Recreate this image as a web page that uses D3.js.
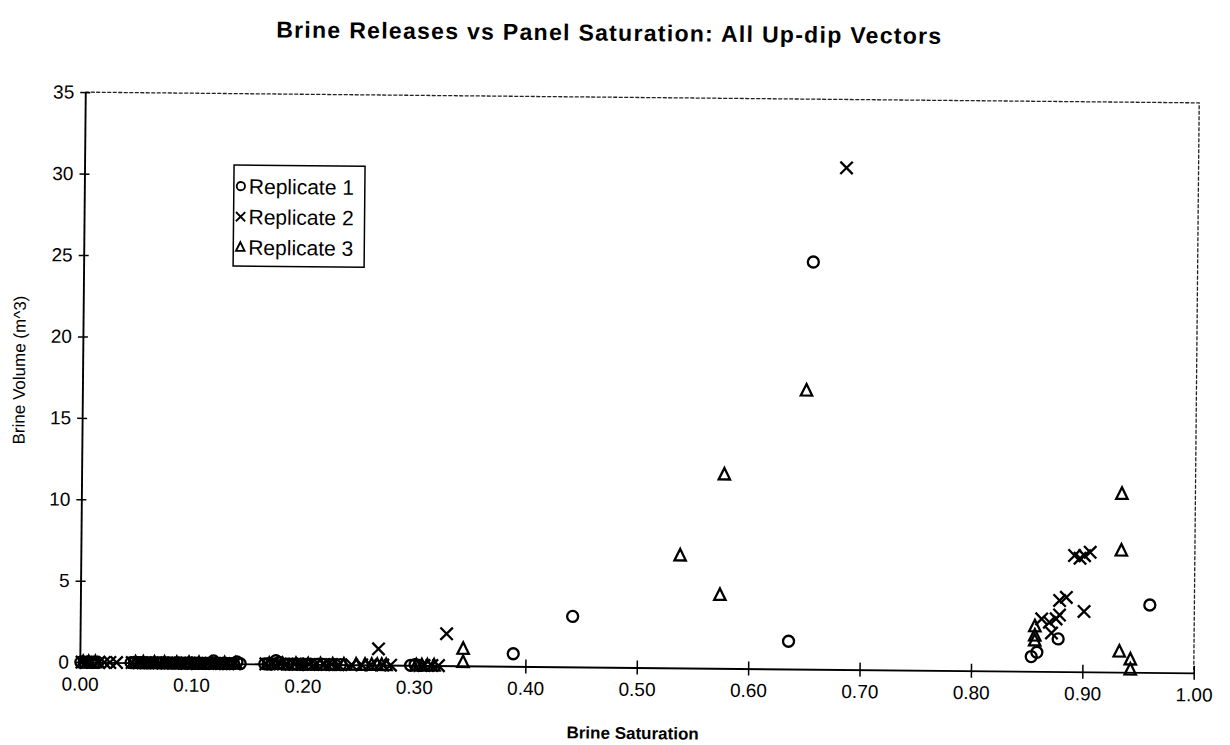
<!DOCTYPE html>
<html>
<head>
<meta charset="utf-8">
<script src="https://cdn.jsdelivr.net/npm/d3@7"></script>
<style>
  body { margin: 0; background: #fff; }
  text { font-family: Arial, "Liberation Sans", sans-serif; fill: #000; }
</style>
</head>
<body>
<div class="chart-container"></div>
<script>
// Replicate 1 (circles)
const rep1_x = [0.001, 0.004, 0.007, 0.010, 0.013, 0.016,
                0.046, 0.049, 0.052, 0.055, 0.058, 0.061, 0.063, 0.066, 0.069, 0.072, 0.074, 0.077, 0.080,
                0.083, 0.086, 0.089, 0.091, 0.094, 0.097, 0.100, 0.103, 0.106, 0.109, 0.112, 0.114, 0.117,
                0.120, 0.123, 0.126, 0.129, 0.132, 0.135, 0.138, 0.141, 0.144,
                0.166, 0.169, 0.172, 0.176, 0.179, 0.183, 0.187, 0.191, 0.195, 0.199, 0.203, 0.208, 0.213,
                0.218, 0.224, 0.229, 0.234, 0.297, 0.301, 0.305,
                0.389, 0.442, 0.636, 0.655, 0.854, 0.859, 0.878, 0.960];
const rep1_y = [0, 0, 0, 0, 0, 0,
                0, 0, 0, 0, 0, 0, 0, 0, 0, 0, 0, 0, 0,
                0, 0, 0, 0, 0, 0, 0, 0, 0, 0, 0, 0, 0,
                0.15, 0, 0, 0, 0, 0, 0, 0.1, 0,
                0, 0, 0, 0.2, 0.1, 0, 0, 0, 0, 0, 0, 0, 0,
                0, 0, 0, 0, 0, 0.05, 0,
                0.77, 3.1, 1.7, 25.0, 0.9, 1.17, 2.0, 4.14];
// Replicate 2 (crosses)
const rep2_x = [0.002, 0.006, 0.011, 0.017, 0.022, 0.027, 0.033,
                0.047, 0.053, 0.059, 0.065, 0.071, 0.078, 0.084, 0.090, 0.096, 0.102, 0.108, 0.115,
                0.121, 0.127, 0.133, 0.139,
                0.167, 0.173, 0.180, 0.186, 0.193, 0.200, 0.206, 0.212, 0.219, 0.226, 0.232,
                0.244, 0.253, 0.261, 0.272, 0.279, 0.309, 0.316, 0.322,
                0.268, 0.329, 0.684, 0.863, 0.870, 0.872, 0.876, 0.879, 0.879, 0.885,
                0.892, 0.897, 0.901, 0.906, 0.901];
const rep2_y = [0, 0, 0, 0, 0, 0, 0,
                0, 0, 0, 0, 0, 0, 0, 0, 0, 0, 0, 0,
                0, 0, 0, 0,
                0, 0, 0, 0, 0, 0, 0, 0, 0, 0, 0,
                0, 0, 0, 0, 0, 0, 0, 0,
                0.99, 1.96, 30.8, 3.22, 3.02, 2.36, 3.23, 3.47, 4.36, 4.56,
                7.13, 6.97, 7.13, 7.34, 3.70];
// Replicate 3 (triangles)
const rep3_x = [0.003, 0.008, 0.014,
                0.050, 0.057, 0.067, 0.076, 0.087, 0.098, 0.107, 0.118, 0.130, 0.140,
                0.170, 0.182, 0.194, 0.205, 0.216, 0.227, 0.237,
                0.248, 0.256, 0.262, 0.267, 0.271, 0.275, 0.302, 0.307, 0.312, 0.318,
                0.344, 0.344, 0.538, 0.574, 0.577, 0.650, 0.857, 0.857, 0.857,
                0.933, 0.934, 0.934, 0.943, 0.943];
const rep3_y = [0, 0, 0,
                0, 0, 0, 0, 0, 0, 0, 0, 0, 0,
                0, 0, 0, 0, 0, 0, 0,
                0, 0, 0, 0, 0, 0, 0, 0, 0, 0,
                1.04, 0.23, 6.9, 4.5, 11.9, 17.1, 2.76, 2.19, 1.89,
                1.26, 10.94, 7.46, 0.78, 0.16];

const xTicks = [0, 0.1, 0.2, 0.3, 0.4, 0.5, 0.6, 0.7, 0.8, 0.9, 1.0];
const yTicks = [0, 5, 10, 15, 20, 25, 30, 35];
const seriesNames = ["Replicate 1", "Replicate 2", "Replicate 3"];

const svg_width = 1230;
const svg_height = 745;
const chart_margin = {top: 97.5, right: 33.5, bottom: 77.5, left: 82.5};
const chart_width = svg_width - (chart_margin.left + chart_margin.right);
const chart_height = svg_height - (chart_margin.top + chart_margin.bottom);

const svg = d3.select('.chart-container').append('svg')
    .attr('width', svg_width).attr('height', svg_height);
svg.append('rect').attr('width', svg_width).attr('height', svg_height).attr('fill', '#fff');

// the scanned page is a little tilted
const page = svg.append('g').attr('transform', 'rotate(0.55,639.5,382.5)');

const this_svg = page.append('g')
    .attr('transform', `translate(${chart_margin.left},${chart_margin.top})`);

const xScale = d3.scaleLinear([0, 1], [0, chart_width]);
const yScale = d3.scaleLinear([0, 35], [chart_height, 0]);

// top and right frame (thin, broken)
this_svg.append('path')
    .attr('d', `M0,0H${chart_width}V${chart_height}`)
    .attr('fill', 'none').attr('stroke', '#222').attr('stroke-width', 1.3)
    .attr('stroke-dasharray', '4,1.5');

const xAxis = d3.axisBottom(xScale).tickValues(xTicks)
    .tickFormat(d3.format('.2f')).tickSizeInner(7).tickSizeOuter(0);
const xAxisDraw = this_svg.append('g').attr('class', 'x axis')
    .attr('transform', `translate(0,${chart_height})`).call(xAxis);
xAxisDraw.select('.domain').attr('stroke', '#000').attr('stroke-width', 1.9);
xAxisDraw.selectAll('.tick line').attr('y1', -7).attr('stroke-width', 1.5);
xAxisDraw.selectAll('text').attr('y', 15).style('font-size', '19px');

const yAxis = d3.axisLeft(yScale).tickValues(yTicks).tickSizeInner(5).tickSizeOuter(0);
const yAxisDraw = this_svg.append('g').attr('class', 'y axis').call(yAxis);
yAxisDraw.select('.domain').attr('stroke', '#000').attr('stroke-width', 1.9);
yAxisDraw.selectAll('.tick line').attr('x1', 5).attr('stroke-width', 1.5);
yAxisDraw.selectAll('text').attr('x', -11).style('font-size', '19px');

// markers
const markerPath = {
    circle: () => 'M5.5,0A5.5,5.5 0 1,1 -5.5,0A5.5,5.5 0 1,1 5.5,0Z',
    cross: () => 'M-6.2,-6.2L6.2,6.2M-6.2,6.2L6.2,-6.2',
    triangle: () => 'M0,-6.6L5.7,4.9L-5.7,4.9Z'
};
const series = [
    {name: seriesNames[0], shape: 'circle', xs: rep1_x, ys: rep1_y},
    {name: seriesNames[1], shape: 'cross', xs: rep2_x, ys: rep2_y},
    {name: seriesNames[2], shape: 'triangle', xs: rep3_x, ys: rep3_y}
];

series.forEach(s => {
    const pts = s.xs.map((x, i) => ({x: x, y: s.ys[i]}));
    this_svg.append('g').attr('class', 'series')
        .selectAll('path').data(pts).join('path')
        .attr('transform', d => `translate(${xScale(d.x)},${yScale(d.y)})`)
        .attr('d', markerPath[s.shape]())
        .attr('fill', 'none').attr('stroke', '#000').attr('stroke-width', 2.3);
});

// legend
const legend = page.append('g').attr('transform', 'translate(232,169)');
legend.append('rect').attr('width', 131).attr('height', 101)
    .attr('fill', '#fff').attr('stroke', '#000').attr('stroke-width', 1.5);
const legendItems = legend.selectAll('.legend-item').data(series).join('g')
    .attr('class', 'legend-item')
    .attr('transform', (d, i) => `translate(7,${21 + i * 30.5})`);
legendItems.append('path')
    .attr('d', d => markerPath[d.shape]())
    .attr('transform', 'scale(0.75)')
    .attr('fill', 'none').attr('stroke', '#000').attr('stroke-width', 2.5);
legendItems.append('text').attr('x', 8).attr('dy', '0.36em')
    .style('font-size', '21px').text(d => d.name);

// titles
page.append('text').attr('x', 606).attr('y', 41)
    .style('text-anchor', 'middle').style('font-size', '23px').style('font-weight', 'bold')
    .style('letter-spacing', '1.3px')
    .text('Brine Releases vs Panel Saturation: All Up-dip Vectors');

page.append('text').attr('x', 636).attr('y', 739)
    .style('text-anchor', 'middle').style('font-size', '17px').style('font-weight', 'bold')
    .text('Brine Saturation');

page.append('text').attr('transform', 'rotate(-90)')
    .attr('x', -376).attr('y', 25)
    .style('text-anchor', 'middle').style('font-size', '17px')
    .text('Brine Volume (m^3)');
</script>
</body>
</html>
